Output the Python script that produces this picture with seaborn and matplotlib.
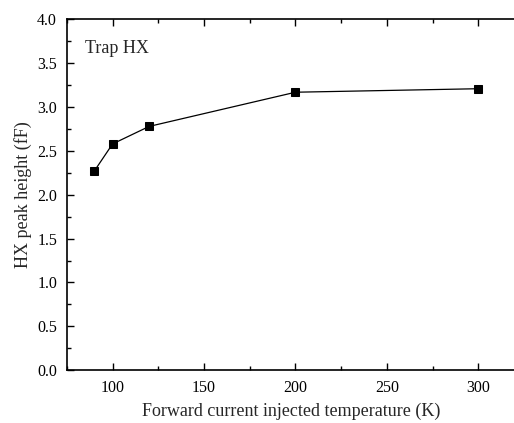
import numpy as np
import pandas as pd
import seaborn as sns
import matplotlib.pyplot as plt
from matplotlib.ticker import MultipleLocator

# Data
temperature = [90, 100, 120, 200, 300]
peak_height = [2.27, 2.58, 2.78, 3.17, 3.21]

df = pd.DataFrame({"temperature": temperature, "peak_height": peak_height})

sns.set_style("ticks")
plt.rcParams["font.family"] = ["Liberation Serif", "DejaVu Serif"]

fig = plt.figure(figsize=(5.14, 4.23), dpi=100)
ax = fig.add_axes([0.130, 0.125, 0.872, 0.829])

sns.lineplot(
    data=df,
    x="temperature",
    y="peak_height",
    marker="s",
    markersize=6,
    color="black",
    markeredgecolor="black",
    linewidth=0.9,
    ax=ax,
)

ax.set_xlim(75, 320)
ax.set_ylim(0, 4.0)
ax.xaxis.set_major_locator(MultipleLocator(50))
ax.xaxis.set_minor_locator(MultipleLocator(25))
ax.yaxis.set_major_locator(MultipleLocator(0.5))
ax.yaxis.set_minor_locator(MultipleLocator(0.25))
ax.yaxis.set_major_formatter(plt.FormatStrFormatter("%.1f"))

ax.tick_params(which="both", direction="in", top=True, right=False,
               labelsize=11.5, width=1, color="black", labelcolor="black")
ax.tick_params(which="major", length=5, pad=7)
ax.tick_params(which="minor", length=3)

for side in ["left", "bottom", "top"]:
    ax.spines[side].set_visible(True)
    ax.spines[side].set_linewidth(1.2)
    ax.spines[side].set_color("black")
ax.spines["right"].set_visible(False)

ax.set_xlabel("Forward current injected temperature (K)", fontsize=13, labelpad=5)
ax.set_ylabel("HX peak height (fF)", fontsize=13, labelpad=4)

ax.text(0.04, 0.94, "Trap HX", transform=ax.transAxes, fontsize=13,
        va="top", ha="left")

fig.savefig("out.png", dpi=100)
